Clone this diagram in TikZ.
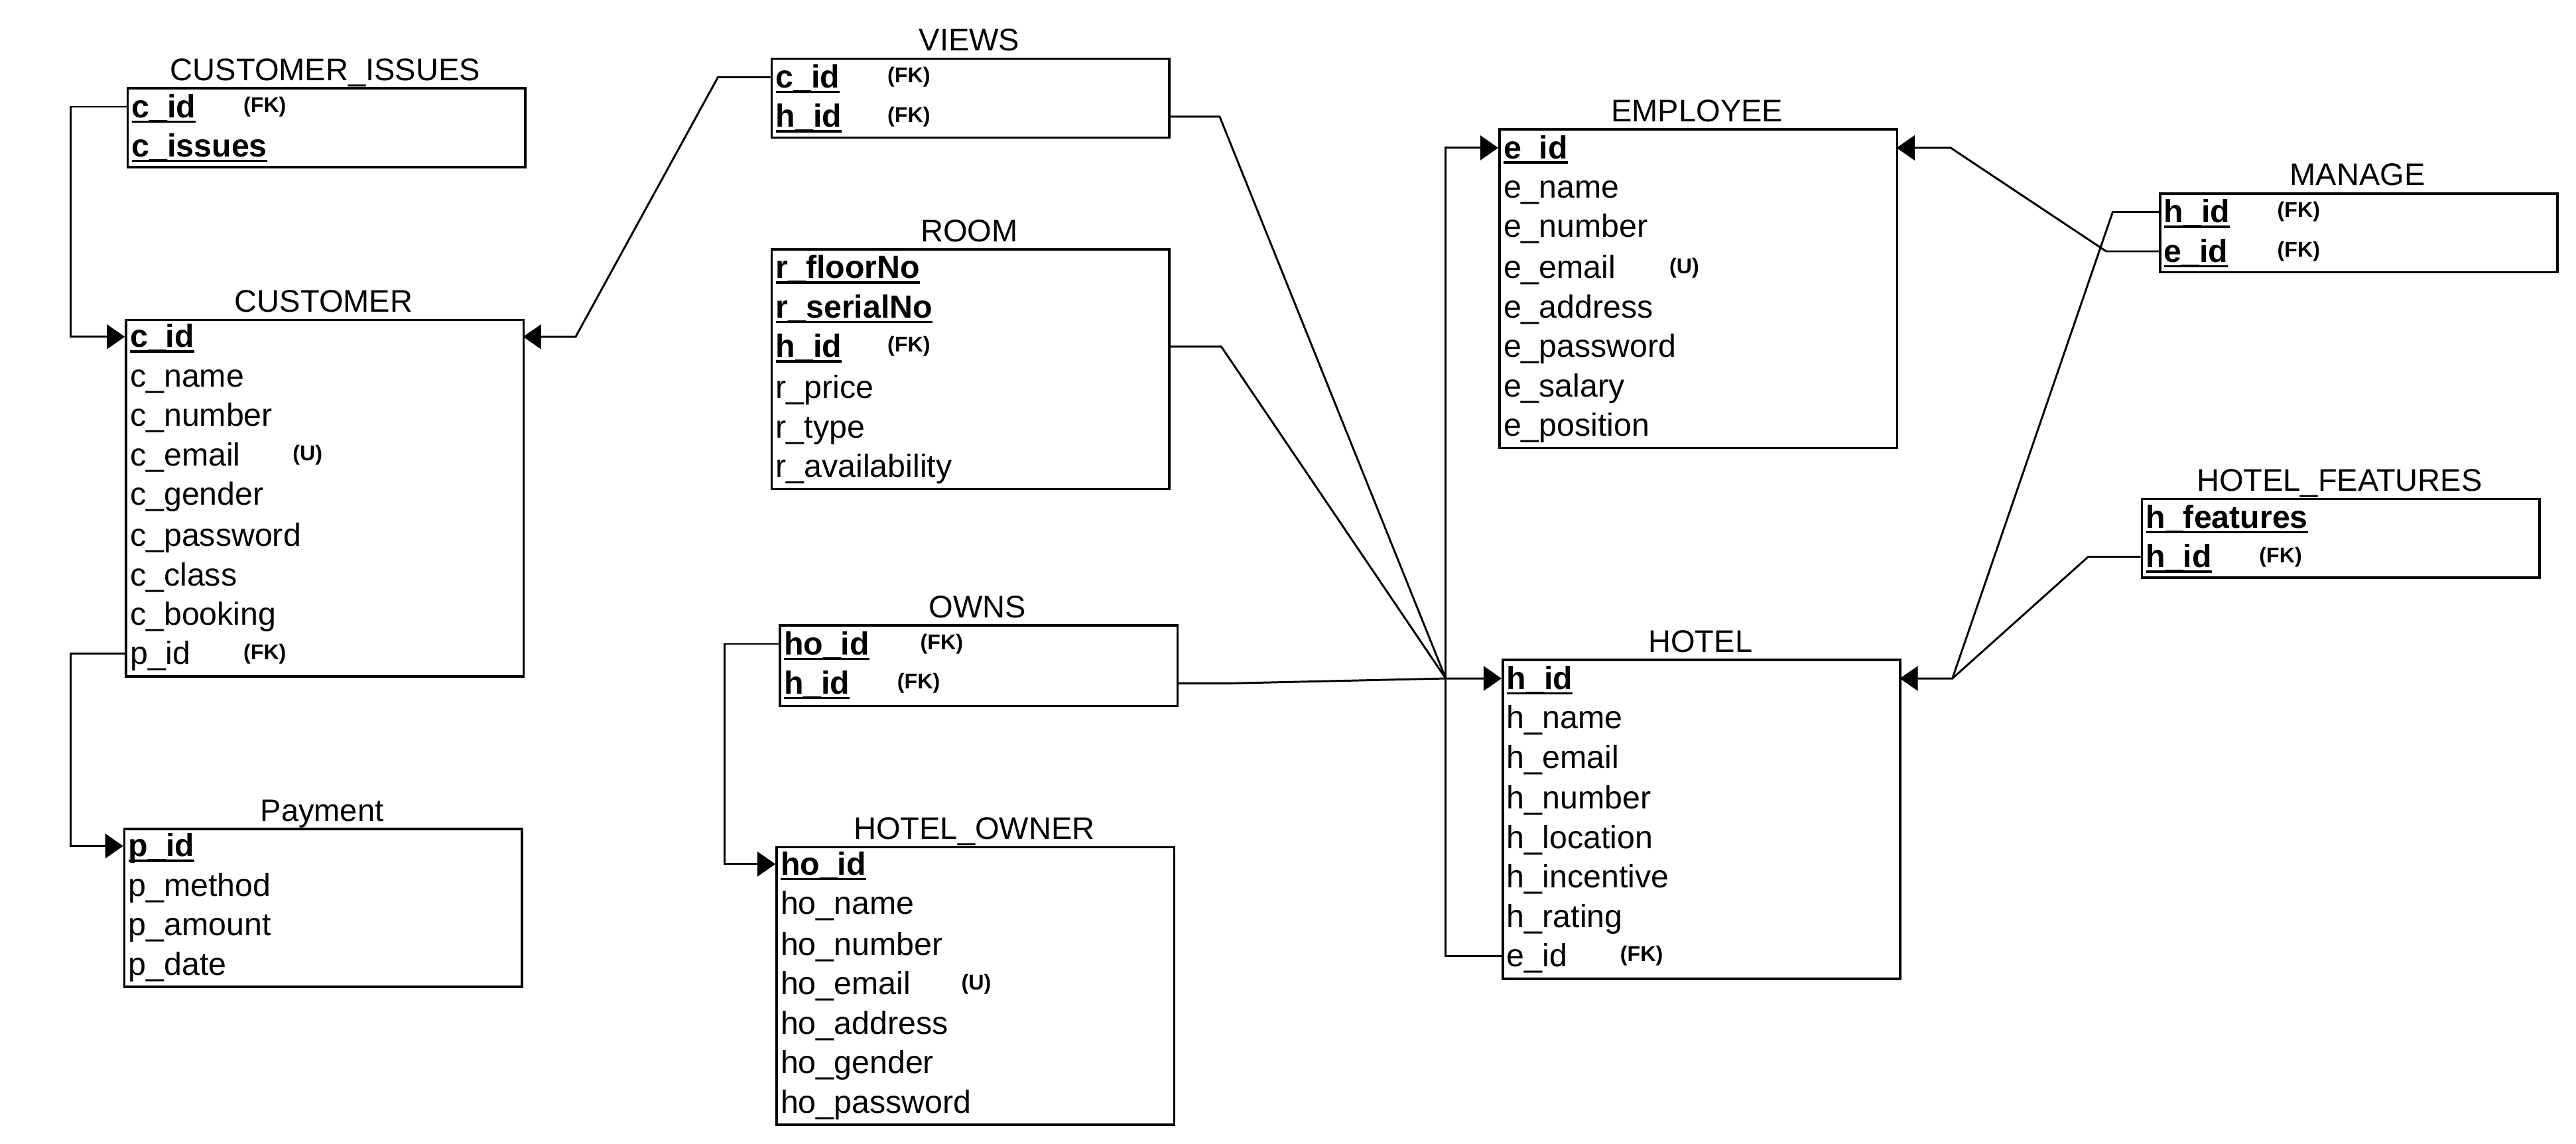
\documentclass[tikz,border=0pt]{standalone}
\usepackage{fontspec}
\setmainfont{Liberation Sans}
\usetikzlibrary{arrows.meta}
\newcommand\pk[1]{\setbox0=\hbox{\bfseries #1}\rlap{\rule[-3.2pt]{\wd0}{1.4pt}}\box0}
\begin{document}
\begin{tikzpicture}[x=1pt,y=-1pt,
  tbl/.style={draw, line width=1.5pt, minimum width=242pt, inner sep=0pt, anchor=north west},
  ttl/.style={anchor=base, inner sep=0pt, font=\fontsize{19}{19}\selectfont},
  field/.style={anchor=west, minimum width=242pt, text width=236pt, inner xsep=3pt, inner ysep=0pt,
    align=left, text height=13pt, text depth=0pt, font=\fontsize{19.5}{20}\selectfont},
  tag/.style={anchor=west, inner sep=0pt, font=\fontsize{13}{13}\selectfont\bfseries},
  conn/.style={line width=1.2pt, line join=miter},
  arr/.style={conn, -{Triangle[length=11pt,width=15pt]}}]
\fill[white] (0,0) rectangle (1568,696);
\useasboundingbox (0,0) rectangle (1568,696);

% CUSTOMER_ISSUES
\node[tbl, minimum height=48pt] (ci) at (77,53) {};
\node[ttl] (ci-t) at (198,49) {CUSTOMER\_ISSUES};
\node[field] (ci-1) at (77,65) {\pk{c\_id}};
\node[field] (ci-2) at (77,89) {\pk{c\_issues}};
\node[tag] (ci-1t) at (148,65) {(FK)};

% CUSTOMER
\node[tbl, minimum height=217pt] (cu) at (76,194) {};
\node[ttl] (cu-t) at (197,190) {CUSTOMER};
\node[field] (cu-1) at (76,205) {\pk{c\_id}};
\node[field] (cu-2) at (76,229) {c\_name};
\node[field] (cu-3) at (76,253) {c\_number};
\node[field] (cu-4) at (76,277) {c\_email};
\node[field] (cu-5) at (76,301) {c\_gender};
\node[field] (cu-6) at (76,326) {c\_password};
\node[field] (cu-7) at (76,350) {c\_class};
\node[field] (cu-8) at (76,374) {c\_booking};
\node[field] (cu-9) at (76,398) {p\_id};
\node[tag] (cu-4t) at (178,277) {(U)};
\node[tag] (cu-9t) at (148,398) {(FK)};

% Payment
\node[tbl, minimum height=96pt] (pa) at (75,504) {};
\node[ttl] (pa-t) at (196,500) {Payment};
\node[field] (pa-1) at (75,515) {\pk{p\_id}};
\node[field] (pa-2) at (75,539) {p\_method};
\node[field] (pa-3) at (75,563) {p\_amount};
\node[field] (pa-4) at (75,587) {p\_date};

% VIEWS
\node[tbl, minimum height=48pt] (vi) at (469,35) {};
\node[ttl] (vi-t) at (590,31) {VIEWS};
\node[field] (vi-1) at (469,47) {\pk{c\_id}};
\node[field] (vi-2) at (469,71) {\pk{h\_id}};
\node[tag] (vi-1t) at (540,47) {(FK)};
\node[tag] (vi-2t) at (540,71) {(FK)};

% ROOM
\node[tbl, minimum height=146pt] (ro) at (469,151) {};
\node[ttl] (ro-t) at (590,147) {ROOM};
\node[field] (ro-1) at (469,163) {\pk{r\_floorNo}};
\node[field] (ro-2) at (469,187) {\pk{r\_serialNo}};
\node[field] (ro-3) at (469,211) {\pk{h\_id}};
\node[field] (ro-4) at (469,236) {r\_price};
\node[field] (ro-5) at (469,260) {r\_type};
\node[field] (ro-6) at (469,284) {r\_availability};
\node[tag] (ro-3t) at (540,211) {(FK)};

% OWNS
\node[tbl, minimum height=49pt] (ow) at (474,380) {};
\node[ttl] (ow-t) at (595,376) {OWNS};
\node[field] (ow-1) at (474,392) {\pk{ho\_id}};
\node[field] (ow-2) at (474,416) {\pk{h\_id}};
\node[tag] (ow-1t) at (560,392) {(FK)};
\node[tag] (ow-2t) at (546,416) {(FK)};

% HOTEL_OWNER
\node[tbl, minimum height=169pt] (hw) at (472,515) {};
\node[ttl] (hw-t) at (593,511) {HOTEL\_OWNER};
\node[field] (hw-1) at (472,526) {\pk{ho\_id}};
\node[field] (hw-2) at (472,550) {ho\_name};
\node[field] (hw-3) at (472,575) {ho\_number};
\node[field] (hw-4) at (472,599) {ho\_email};
\node[field] (hw-5) at (472,623) {ho\_address};
\node[field] (hw-6) at (472,647) {ho\_gender};
\node[field] (hw-7) at (472,671) {ho\_password};
\node[tag] (hw-4t) at (585,599) {(U)};

% EMPLOYEE
\node[tbl, minimum height=194pt] (em) at (912,78) {};
\node[ttl] (em-t) at (1033,74) {EMPLOYEE};
\node[field] (em-1) at (912,90) {\pk{e\_id}};
\node[field] (em-2) at (912,114) {e\_name};
\node[field] (em-3) at (912,138) {e\_number};
\node[field] (em-4) at (912,163) {e\_email};
\node[field] (em-5) at (912,187) {e\_address};
\node[field] (em-6) at (912,211) {e\_password};
\node[field] (em-7) at (912,235) {e\_salary};
\node[field] (em-8) at (912,259) {e\_position};
\node[tag] (em-4t) at (1016,163) {(U)};

% HOTEL
\node[tbl, minimum height=194pt] (ho) at (914,401) {};
\node[ttl] (ho-t) at (1035,397) {HOTEL};
\node[field] (ho-1) at (914,413) {\pk{h\_id}};
\node[field] (ho-2) at (914,437) {h\_name};
\node[field] (ho-3) at (914,461) {h\_email};
\node[field] (ho-4) at (914,486) {h\_number};
\node[field] (ho-5) at (914,510) {h\_location};
\node[field] (ho-6) at (914,534) {h\_incentive};
\node[field] (ho-7) at (914,558) {h\_rating};
\node[field] (ho-8) at (914,582) {e\_id};
\node[tag] (ho-8t) at (986,582) {(FK)};

% MANAGE
\node[tbl, minimum height=48pt] (ma) at (1314,117) {};
\node[ttl] (ma-t) at (1435,113) {MANAGE};
\node[field] (ma-1) at (1314,129) {\pk{h\_id}};
\node[field] (ma-2) at (1314,153) {\pk{e\_id}};
\node[tag] (ma-1t) at (1386,129) {(FK)};
\node[tag] (ma-2t) at (1386,153) {(FK)};

% HOTEL_FEATURES
\node[tbl, minimum height=48pt] (hf) at (1303,303) {};
\node[ttl] (hf-t) at (1424,299) {HOTEL\_FEATURES};
\node[field] (hf-1) at (1303,315) {\pk{h\_features}};
\node[field] (hf-2) at (1303,339) {\pk{h\_id}};
\node[tag] (hf-2t) at (1375,339) {(FK)};

% connectors
\draw[arr] (ci-1.west) -- ++(-34,0) |- (cu-1.west);
\draw[arr] (vi-1.west) -- ++(-32,0) -- ([xshift=32pt]cu-1.east) -- (cu-1.east);
\draw[arr] (cu-9.west) -- ++(-33,0) |- (pa-1.west);
\draw[arr] (ow-1.west) -- ++(-33,0) |- (hw-1.west);
\coordinate (jl) at ([xshift=-34pt]ho-1.west);
\draw[arr] (vi-2.east) -- ++(31,0) -- (jl) -- (ho-1.west);
\draw[conn] (ro-3.east) -- ++(32,0) -- (jl);
\draw[conn] (ow-2.east) -- ++(31,0) -- (jl);
\draw[arr] (ho-8.west) -- ++(-34,0) |- (em-1.west);
\coordinate (jr) at ([xshift=32pt]ho-1.east);
\draw[arr] (ma-1.west) -- ++(-28,0) -- (jr) -- (ho-1.east);
\draw[conn] (hf-2.west) -- ++(-32,0) -- (jr);
\draw[arr] (ma-2.west) -- ++(-32,0) -- ([xshift=33pt]em-1.east) -- (em-1.east);
\end{tikzpicture}
\end{document}
